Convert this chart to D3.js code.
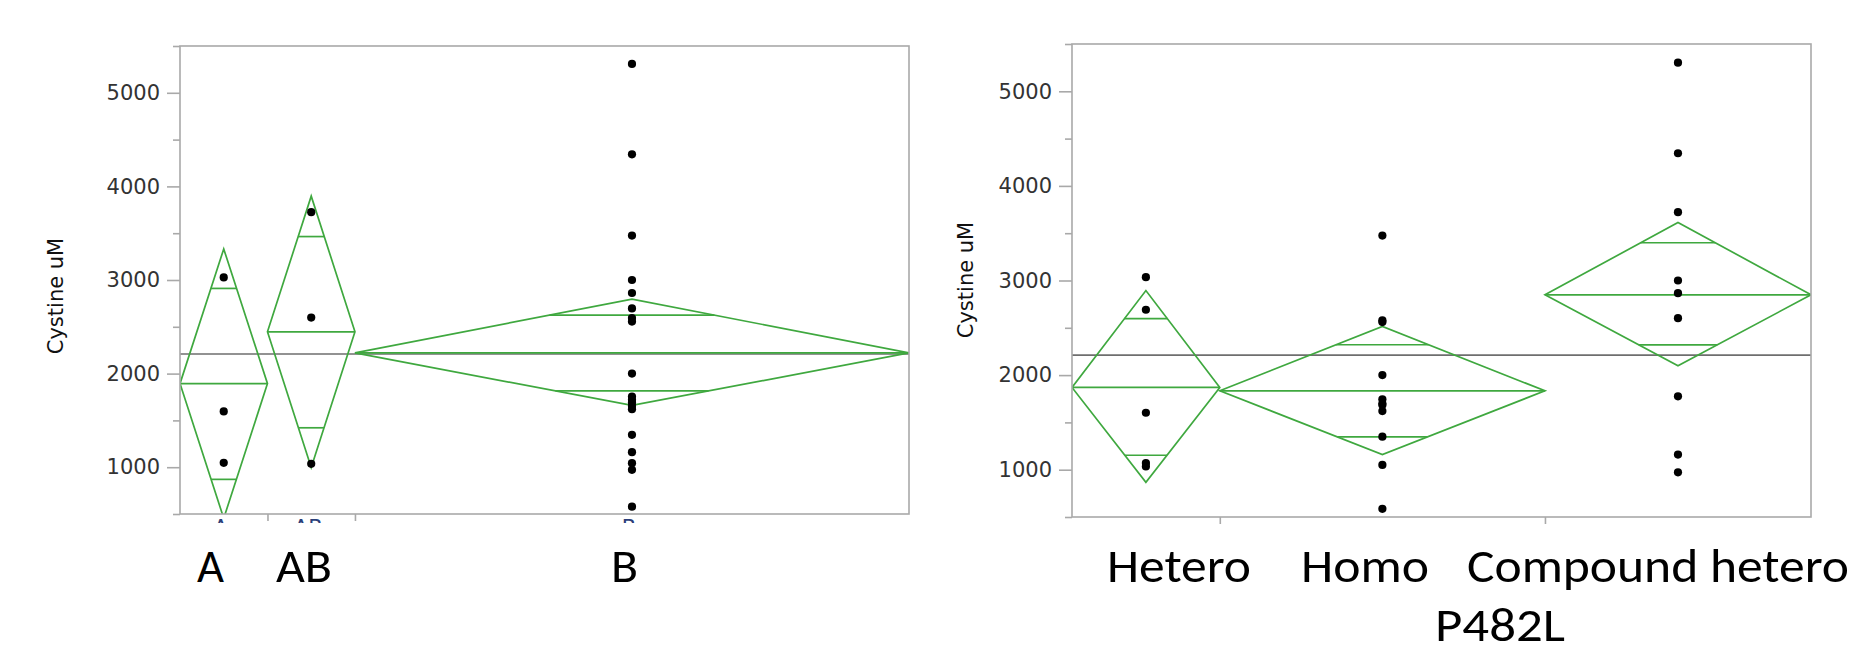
<!DOCTYPE html>
<html>
<head>
<meta charset="utf-8">
<script src="https://cdn.jsdelivr.net/npm/d3@7"></script>
<style>
html, body { margin: 0; padding: 0; background: #fff; overflow: hidden; }
svg { display: block; }
</style>
</head>
<body>
<script>
// values (Cystine uM)
var leftGroups = ["A", "AB", "B"];
var leftPoints = [
	[3028, 1596, 1047],
	[3725, 2599, 1036],
	[5308, 4343, 3475, 3000, 2861, 2696, 2593, 2556, 2000, 1755, 1720, 1690, 1655, 1620, 1346, 1161, 1043, 972, 578]
];
var leftMean = [1893, 2446, 2221];
var leftUpper = [3332, 3896, 2796];
var leftLower = [454, 996, 1660];
var leftMarkHi = [2910, 3464, 2625];
var leftMarkLo = [870, 1421, 1815];
var leftGrand = 2210;

var rightGroups = ["Hetero", "Homo", "Compound hetero"];
var rightPoints = [
	[3035, 2691, 1602, 1070, 1035],
	[3475, 2578, 2560, 2000, 1744, 1700, 1684, 1620, 1349, 1050, 586],
	[5303, 4345, 3722, 3000, 2866, 2602, 1776, 1160, 972]
];
var rightMean = [1870, 1834, 2849];
var rightUpper = [2894, 2515, 3613];
var rightLower = [866, 1160, 2098];
var rightMarkHi = [2596, 2321, 3399];
var rightMarkLo = [1153, 1346, 2320];
var rightGrand = 2211;

var yMajor = [1000, 2000, 3000, 4000, 5000];
var yMinor = [500, 1500, 2500, 3500, 4500, 5500];
var yDomain = [500, 5500];
var yTitle = "Cystine uM";
var extraLabel = "P482L";

var green = "#3fa83f";
var W = 1853, H = 652;

var svg = d3.select("body").append("svg").attr("width", W).attr("height", H);

function panel(id, box, groups, points, mean, upper, lower, hi, lo, grand) {
	var counts = points.map(function(p) { return p.length; });
	var cum = [0];
	counts.forEach(function(c, i) { cum.push(cum[i] + c); });
	var x = d3.scaleLinear().domain([0, cum[cum.length - 1]]).range([box.x0, box.x1]);
	var y = d3.scaleLinear().domain(yDomain).range([box.y1, box.y0]);

	var g = svg.append("g");
	g.append("clipPath").attr("id", id).append("rect")
		.attr("x", box.x0).attr("y", box.y0)
		.attr("width", box.x1 - box.x0).attr("height", box.y1 - box.y0);
	var plot = g.append("g").attr("clip-path", "url(#" + id + ")");

	// grand mean
	plot.append("line")
		.attr("x1", box.x0).attr("x2", box.x1)
		.attr("y1", y(grand)).attr("y2", y(grand))
		.attr("stroke", "#6e6e6e").attr("stroke-width", 1.6);

	groups.forEach(function(name, i) {
		var xl = x(cum[i]), xr = x(cum[i + 1]), xc = (xl + xr) / 2;
		var ym = y(mean[i]);
		plot.append("path")
			.attr("d", "M" + xl + "," + ym + "L" + xc + "," + y(upper[i]) + "L" + xr + "," + ym +
				"L" + xc + "," + y(lower[i]) + "Z")
			.attr("fill", "none").attr("stroke", green).attr("stroke-width", 1.7);
		plot.append("line")
			.attr("x1", xl).attr("x2", xr).attr("y1", ym).attr("y2", ym)
			.attr("stroke", green).attr("stroke-width", 1.7);
		// overlap marks, cut by the diamond sides
		var hw = (xr - xl) / 2;
		var fh = 1 - (hi[i] - mean[i]) / (upper[i] - mean[i]);
		var fl = 1 - (mean[i] - lo[i]) / (mean[i] - lower[i]);
		[[hi[i], fh], [lo[i], fl]].forEach(function(m) {
			plot.append("line")
				.attr("x1", xc - hw * m[1]).attr("x2", xc + hw * m[1])
				.attr("y1", y(m[0])).attr("y2", y(m[0]))
				.attr("stroke", green).attr("stroke-width", 1.7);
		});
		plot.selectAll(".dot" + i).data(points[i]).enter().append("circle")
			.attr("cx", xc).attr("cy", function(d) { return y(d); })
			.attr("r", 4.1).attr("fill", "#000");
	});

	// frame
	g.append("rect")
		.attr("x", box.x0).attr("y", box.y0)
		.attr("width", box.x1 - box.x0).attr("height", box.y1 - box.y0)
		.attr("fill", "none").attr("stroke", "#a9a9a9").attr("stroke-width", 1.6);

	var ax = g.append("g").attr("transform", "translate(" + box.x0 + ",0)")
		.call(d3.axisLeft(y).tickValues(yMajor).tickSize(13).tickPadding(7).tickFormat(d3.format("d")));
	var axm = g.append("g").attr("transform", "translate(" + box.x0 + ",0)")
		.call(d3.axisLeft(y).tickValues(yMinor).tickSize(7).tickFormat(""));
	var bx = g.append("g").attr("transform", "translate(0," + box.y1 + ")")
		.call(d3.axisBottom(x).tickValues(cum.slice(1, -1)).tickSize(7).tickFormat(""));
	[ax, axm, bx].forEach(function(a) {
		a.select(".domain").remove();
		a.selectAll("line").attr("stroke", "#a9a9a9").attr("stroke-width", 1.6);
	});
	ax.selectAll("text")
		.attr("font-family", "DejaVu Sans, sans-serif").attr("font-size", 21)
		.attr("fill", "#333");

	g.append("text")
		.attr("transform", "translate(" + box.titleX + "," + box.titleY + ") rotate(-90)")
		.attr("text-anchor", "middle")
		.attr("font-family", "DejaVu Sans, sans-serif").attr("font-size", 21)
		.attr("fill", "#111").text(yTitle);

	return { x: x, cum: cum };
}

var L = panel("clipL", { x0: 180, x1: 909, y0: 46, y1: 514, titleX: 63, titleY: 296 },
	leftGroups, leftPoints, leftMean, leftUpper, leftLower, leftMarkHi, leftMarkLo, leftGrand);
var R = panel("clipR", { x0: 1072, x1: 1811, y0: 44, y1: 517, titleX: 973, titleY: 280 },
	rightGroups, rightPoints, rightMean, rightUpper, rightLower, rightMarkHi, rightMarkLo, rightGrand);

// original small category labels of the left panel, mostly hidden
svg.append("clipPath").attr("id", "cut").append("rect")
	.attr("x", 170).attr("y", 517).attr("width", 760).attr("height", 6);
svg.append("g").attr("clip-path", "url(#cut)")
	.selectAll("text").data(leftGroups).enter().append("text")
	.attr("x", function(d, i) { return L.x((L.cum[i] + L.cum[i + 1]) / 2) - 3; })
	.attr("y", 535).attr("text-anchor", "middle")
	.attr("font-family", "DejaVu Sans, sans-serif").attr("font-size", 21)
	.attr("fill", "#2b3f7a").text(function(d) { return d; });

// large pasted labels
var bigFont = "Carlito, Lato, sans-serif";
var bigLabels = [
	{ text: leftGroups[0], x: 197, y: 582, w: 27 },
	{ text: leftGroups[1], x: 276, y: 582, w: 56 },
	{ text: leftGroups[2], x: 611, y: 582, w: 27 },
	{ text: rightGroups[0], x: 1107, y: 582, w: 144 },
	{ text: rightGroups[1], x: 1301, y: 582, w: 128 },
	{ text: rightGroups[2], x: 1467, y: 582, w: 382 },
	{ text: extraLabel, x: 1435, y: 641, w: 130 }
];
svg.selectAll(".big").data(bigLabels).enter().append("text")
	.attr("class", "big")
	.attr("x", function(d) { return d.x; }).attr("y", function(d) { return d.y; })
	.attr("textLength", function(d) { return d.w; })
	.attr("lengthAdjust", "spacingAndGlyphs")
	.attr("font-family", bigFont).attr("font-size", 47)
	.attr("fill", "#000").text(function(d) { return d.text; });
</script>
</body>
</html>
